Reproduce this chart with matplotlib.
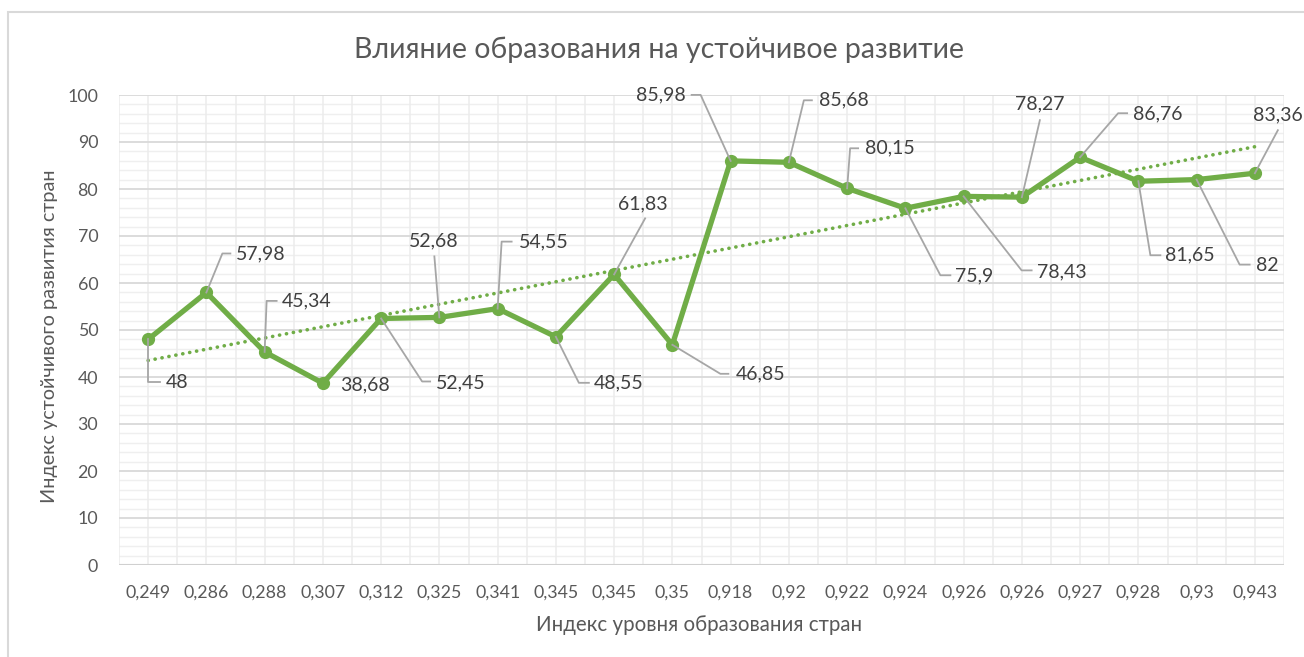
import numpy as np
import matplotlib
matplotlib.use("Agg")
import matplotlib.pyplot as plt
from matplotlib.lines import Line2D
from matplotlib.transforms import IdentityTransform
from matplotlib.patches import Rectangle

# данные
categories = ["0,249", "0,286", "0,288", "0,307", "0,312", "0,325", "0,341", "0,345", "0,345", "0,35",
              "0,918", "0,92", "0,922", "0,924", "0,926", "0,926", "0,927", "0,928", "0,93", "0,943"]
values = [48, 57.98, 45.34, 38.68, 52.45, 52.68, 54.55, 48.55, 61.83, 46.85,
          85.98, 85.68, 80.15, 75.9, 78.43, 78.27, 86.76, 81.65, 82, 83.36]
value_labels = ["48", "57,98", "45,34", "38,68", "52,45", "52,68", "54,55", "48,55", "61,83", "46,85",
                "85,98", "85,68", "80,15", "75,9", "78,43", "78,27", "86,76", "81,65", "82", "83,36"]

title = "Влияние образования на устойчивое развитие"
xlabel = "Индекс уровня образования стран"
ylabel = "Индекс устойчивого развития стран"

# смещения подписей (пиксели от точки): изгиб выноски, конец выноски, текст, выравнивание
lab_pos = [
    ((0, -43), (12, -43), (18, -43), "left"),
    ((16, 39), (24, 39), (30, 39), "left"),
    ((2, 51), (12, 51), (17, 51), "left"),
    (None, None, (17, -2), "left"),
    ((41, -63), (49, -63), (55, -64), "left"),
    ((-5, 61), None, (-6, 77), "center"),
    ((4, 67), (14, 67), (21, 67), "left"),
    ((23, -46), (33, -46), (38, -46), "left"),
    ((31, 56), None, (29, 71), "center"),
    ((48, -29), (56, -29), (63, -29), "left"),
    ((-30, 66), (-39, 66), (-45, 66), "right"),
    ((15, 62), (23, 62), (30, 62), "left"),
    ((3, 40), (11, 40), (18, 40), "left"),
    ((35, -67), (45, -67), (50, -68), "left"),
    ((58, -74), (68, -74), (73, -75), "left"),
    ((18, 77), None, (18, 93), "center"),
    ((38, 44), (47, 44), (53, 43), "left"),
    ((12, -74), (22, -74), (27, -74), "left"),
    ((43, -85), (53, -85), (59, -86), "left"),
    ((23, 43), None, (23, 58), "center"),
]

plt.rcParams["font.family"] = ["Lato", "DejaVu Sans"]
green = "#70AD47"
tcol = "#595959"

W, H = 1304, 657
fig = plt.figure(figsize=(W / 100, H / 100), dpi=100)
fig.patch.set_facecolor("white")
fig.add_artist(Rectangle((8 / W, -0.1), 1.2, 1 - 12 / H + 0.1, transform=fig.transFigure,
                         fill=False, edgecolor="#d9d9d9", lw=1.5))

ax = fig.add_axes([119 / W, 1 - 565 / H, (1284 - 119) / W, (565 - 95) / H])
x = np.arange(len(values))

ax.set_xlim(-0.5, len(values) - 0.5)
ax.set_ylim(0, 100)

# сетка
for yy in np.arange(2, 100.1, 2):
    if yy % 10:
        ax.axhline(yy, color="#efefef", lw=1.0, zorder=0)
for xx in np.arange(-0.5, len(values), 0.5):
    ax.axvline(xx, color="#ececec", lw=1.1, zorder=0)
for yy in np.arange(10, 100.1, 10):
    ax.axhline(yy, color="#d9d9d9", lw=1.3, zorder=0.5)
ax.axhline(0, color="#d0d0d0", lw=1.5, zorder=0.5)

for s in ax.spines.values():
    s.set_visible(False)

ax.set_xticks(x)
ax.set_xticklabels(categories)
ax.set_yticks(np.arange(0, 101, 10))
ax.tick_params(axis="both", length=0, colors=tcol, labelsize=12.8)
ax.tick_params(axis="y", pad=15)
ax.tick_params(axis="x", pad=14)

# линия тренда
k, b = np.polyfit(x + 1, values, 1)
ax.plot(x, k * (x + 1) + b, color=green, lw=2.6, linestyle=(0, (0.05, 1.9)),
        dash_capstyle="round", zorder=2)

ax.plot(x, values, color=green, lw=3.8, marker="o", markersize=8.5,
        markerfacecolor=green, markeredgecolor=green, zorder=3, solid_joinstyle="round")

# подписи данных с выносками
for i, v in enumerate(values):
    px, py = ax.transData.transform((x[i], v))
    elbow, end, tpos, ha = lab_pos[i]
    if elbow is not None:
        xs = [px, px + elbow[0]]
        ys = [py, py + elbow[1]]
        if end is not None:
            xs.append(px + end[0])
            ys.append(py + end[1])
        fig.add_artist(Line2D(xs, ys, transform=IdentityTransform(), color="#a6a6a6",
                              lw=1.3, zorder=1))
    ax.annotate(value_labels[i], xy=(x[i], v), xytext=tpos, textcoords="offset pixels",
                ha=ha, va="center", fontsize=14, color="#404040", zorder=4)

fig.text(659 / W, 1 - 50 / H, title, ha="center", va="center", fontsize=20.5, color=tcol)
fig.text(699 / W, 1 - 625 / H, xlabel, ha="center", va="center", fontsize=14.8, color=tcol)
fig.text(50 / W, 1 - 336 / H, ylabel, ha="center", va="center", rotation=90,
         fontsize=14.3, color=tcol)

fig.savefig("out.png", dpi=100)
